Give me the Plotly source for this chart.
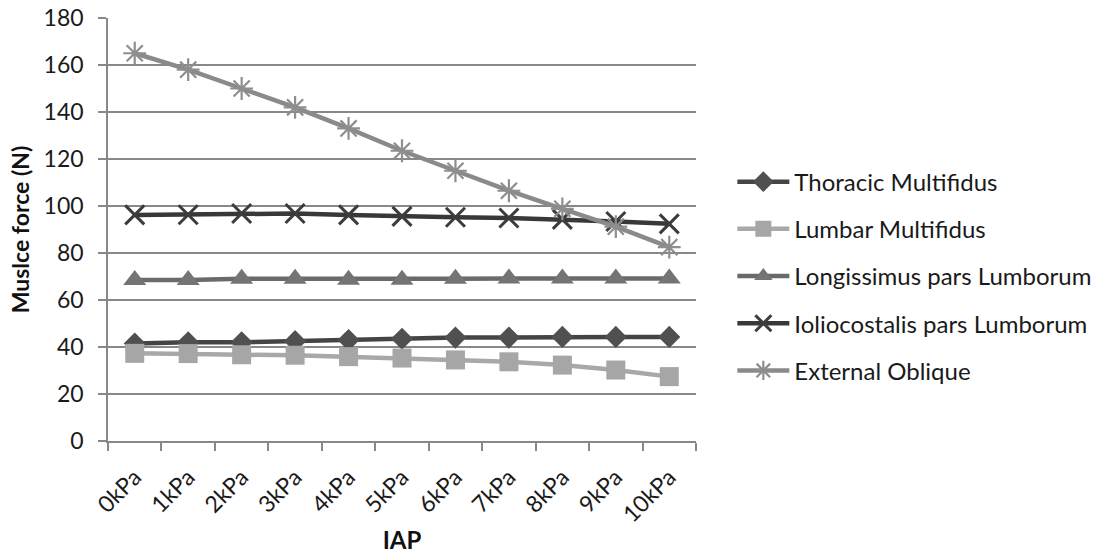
import plotly.graph_objects as go

categories = ["0kPa", "1kPa", "2kPa", "3kPa", "4kPa", "5kPa", "6kPa", "7kPa", "8kPa", "9kPa", "10kPa"]
thoracic_multifidus = [41.5, 42, 42, 42.5, 43, 43.5, 44, 44, 44.3, 44.3, 44.3]
lumbar_multifidus = [37.3, 37.2, 36.7, 36.5, 35.9, 35.3, 34.5, 33.7, 32.3, 30.2, 27.4]
longissimus = [68.5, 68.5, 69, 69, 68.6, 68.6, 69, 69.1, 69.1, 69.1, 69.1]
ioliocostalis = [96.2, 96.3, 96.8, 96.8, 96.2, 95.6, 95.2, 94.9, 94.3, 93.4, 92.4]
external_oblique = [165, 158, 150, 142, 133, 123.5, 115, 106.5, 98.8, 91.2, 82.5]
y_ticks = [0, 20, 40, 60, 80, 100, 120, 140, 160, 180]

FONT = "Lato"

series = [
    ("Thoracic Multifidus", thoracic_multifidus, "#444444", "#505050", "diamond", 17, None),
    ("Lumbar Multifidus", lumbar_multifidus, "#a8a8a8", "#a6a6a6", "square", 19, None),
    ("Longissimus pars Lumborum", longissimus, "#6a6a6a", "#747474", "triangle-up", 20, None),
    ("Ioliocostalis pars Lumborum", ioliocostalis, "#383838", "#3c3c3c", "x-thin", 19, 3),
    ("External Oblique", external_oblique, "#8a8a8a", "#8e8e8e", "asterisk", 19, 2.2),
]

fig = go.Figure()
for i, (name, vals, lc, mc, sym, size, lw) in enumerate(series):
    marker = dict(symbol=sym, size=size, color=mc)
    if lw is not None:
        marker["line"] = dict(color=mc, width=lw)
    else:
        marker["line"] = dict(width=0)
    fig.add_trace(go.Scatter(
        x=categories, y=vals, name=name, mode="lines+markers",
        line=dict(color=lc, width=4.5), marker=marker,
        legendgroup=f"g{i}",
    ))

fig.update_layout(
    width=1108, height=554,
    margin=dict(l=108, r=411, t=18, b=113),
    paper_bgcolor="white", plot_bgcolor="white",
    font=dict(family=FONT, size=22, color="#1a1a1a"),
    showlegend=True,
    legend=dict(
        x=1.06, y=0.39, xanchor="left", yanchor="middle",
        font=dict(family=FONT, size=24, color="#1a1a1a"),
        itemwidth=52, tracegroupgap=13, traceorder="grouped",
        bgcolor="rgba(0,0,0,0)",
    ),
)
fig.update_xaxes(
    type="category", range=[-0.5, 10.5], automargin=False,
    showline=True, linecolor="#888888", linewidth=1.5,
    ticks="outside", tickson="boundaries", ticklen=8, tickcolor="#888888", tickwidth=1.5,
    tickangle=-45, tickfont=dict(family=FONT, size=23, color="#1a1a1a"),
    ticklabelstandoff=12,
    showgrid=False,
    title=dict(text="<b>IAP</b>", font=dict(family=FONT, size=24, color="#111111"), standoff=6),
)
fig.update_yaxes(
    range=[0, 180], tickvals=y_ticks, automargin=False,
    showline=True, linecolor="#888888", linewidth=1.5,
    ticks="outside", ticklen=8, tickcolor="#888888", tickwidth=1.5,
    ticklabelstandoff=10,
    showgrid=True, gridcolor="#888888", gridwidth=1.5,
    tickfont=dict(family=FONT, size=23, color="#1a1a1a"),
    zeroline=False,
    title=dict(text="<b>Muslce force (N)</b>", font=dict(family=FONT, size=23, color="#111111"), standoff=8),
)

fig.write_html("out.html")
